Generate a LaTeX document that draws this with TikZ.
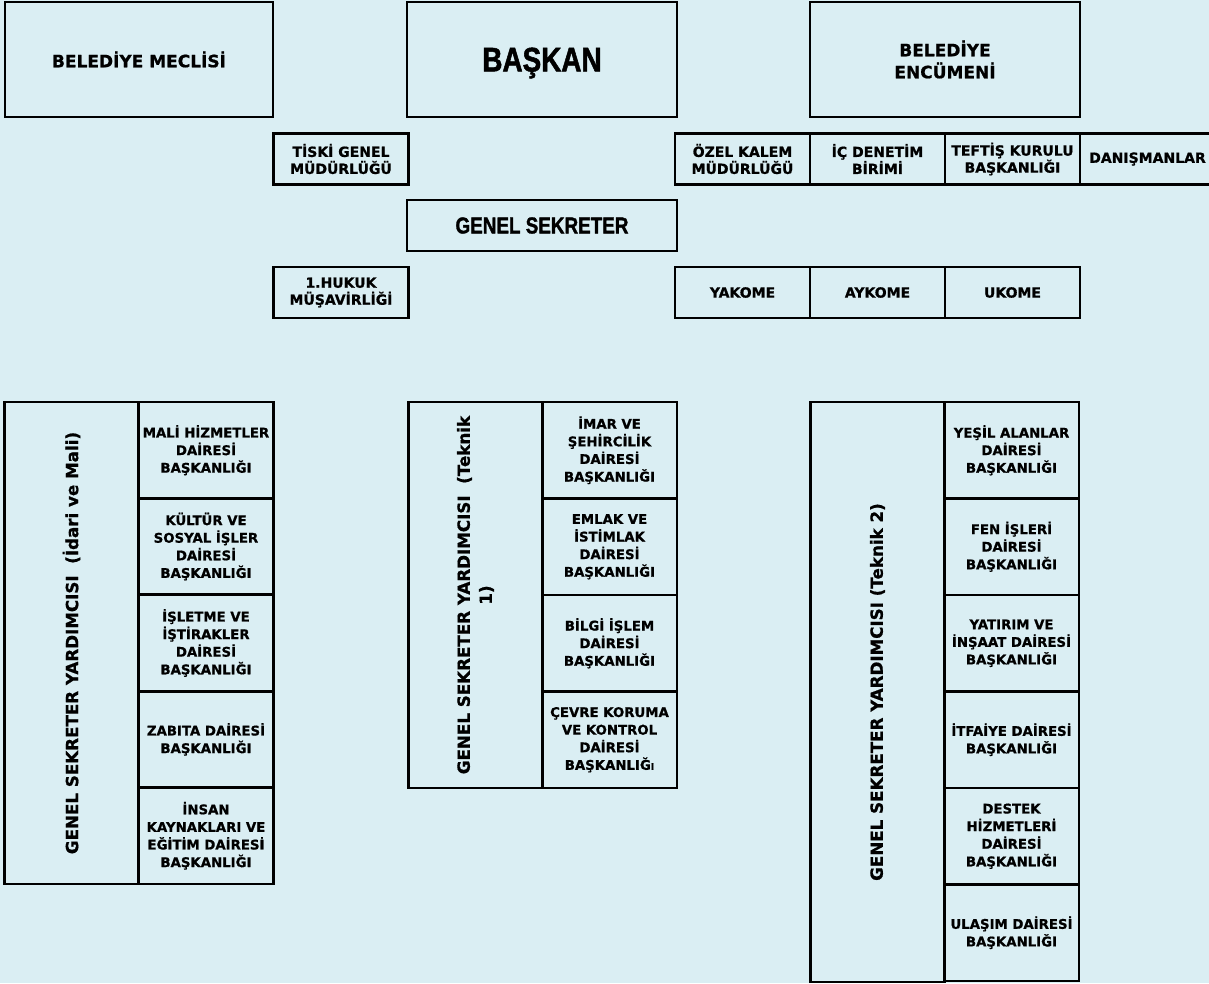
\documentclass[tikz,border=0pt]{standalone}
\usepackage{fontspec}
\newfontfamily\boxfont{DejaVu Sans Bold}[FakeBold=0.9]
\newfontfamily\headfont{Liberation Sans Bold}[FakeStretch=0.82,FakeBold=1.5]
\usetikzlibrary{positioning}
\definecolor{bgblue}{HTML}{DAEEF3}

\begin{document}
\begin{tikzpicture}[x=1pt,y=-1pt,
  box/.style={draw, line width=2.8pt, rectangle, outer sep=0pt, inner sep=0pt, align=center,
    font=\boxfont\fontsize{13.3}{17.6}\selectfont},
  topbox/.style={box, minimum width=270, minimum height=115, font=\boxfont\fontsize{17}{22}\selectfont},
  smallbox/.style={box, minimum width=135, minimum height=51, font=\boxfont\fontsize{14}{17}\selectfont},
  headcell/.style={box, rotate=90, minimum height=134, font=\boxfont\fontsize{16.7}{22}\selectfont},
  unitcell/.style={box, minimum width=135, minimum height=96.5}]

% Background
\fill[bgblue] (0,0) rectangle (1209,983);
\clip (0,0) rectangle (1209,983);

% Top row
\node[topbox, minimum width=268] (meclis) at (139,59.5) {BELEDİYE MECLİSİ};
\node[topbox, text depth=0pt, font=\headfont\fontsize{34}{40}\selectfont] (baskan) at (542,59.5) {BAŞKAN};
\node[topbox] (encumen) at (945,59.5) {BELEDİYE\\ENCÜMENİ};

% Units under the mayor
\node[smallbox] (tiski) at (341,159) {TİSKİ GENEL\\MÜDÜRLÜĞÜ};
\node[smallbox] (ozel) at (742.5,159) {ÖZEL KALEM\\MÜDÜRLÜĞÜ};
\node[smallbox, right=0pt of ozel] (icden) {İÇ DENETİM\\BİRİMİ};
\node[smallbox, right=0pt of icden] (teftis) {TEFTİŞ KURULU\\BAŞKANLIĞI};
\node[smallbox, right=0pt of teftis] (danis) {DANIŞMANLAR};

% Secretary general
\node[box, minimum width=270, minimum height=51, font=\headfont\fontsize{23}{28}\selectfont]
  (gensek) at (542,225.5) {GENEL SEKRETER};

\node[smallbox] (hukuk) at (341,292.5) {1.HUKUK\\MÜŞAVİRLİĞİ};
\node[smallbox] (yakome) at (742.5,292.5) {YAKOME};
\node[smallbox, right=0pt of yakome] (aykome) {AYKOME};
\node[smallbox, right=0pt of aykome] (ukome) {UKOME};

% Deputy (administrative and financial)
\node[headcell, minimum width=482] (idari) at (71.5,643) {GENEL SEKRETER YARDIMCISI~~(İdari ve Mali)};
\node[unitcell, minimum height=96.4] (mali) at (206,450.2) {MALİ HİZMETLER\\DAİRESİ\\BAŞKANLIĞI};
\node[unitcell, minimum height=96.4, below=0pt of mali] (kultur) {KÜLTÜR VE\\SOSYAL İŞLER\\DAİRESİ\\BAŞKANLIĞI};
\node[unitcell, minimum height=96.4, below=0pt of kultur] (isletme) {İŞLETME VE\\İŞTİRAKLER\\DAİRESİ\\BAŞKANLIĞI};
\node[unitcell, minimum height=96.4, below=0pt of isletme] (zabita) {ZABITA DAİRESİ\\BAŞKANLIĞI};
\node[unitcell, minimum height=96.4, below=0pt of zabita] (insan) {İNSAN\\KAYNAKLARI VE\\EĞİTİM DAİRESİ\\BAŞKANLIĞI};

% Deputy (technical 1)
\node[headcell, minimum width=386] (teknik1) at (475.5,595) {GENEL SEKRETER YARDIMCISI~~(Teknik\\1)};
\node[unitcell] (imar) at (609.5,450.25) {İMAR VE\\ŞEHİRCİLİK\\DAİRESİ\\BAŞKANLIĞI};
\node[unitcell, below=0pt of imar] (emlak) {EMLAK VE\\İSTİMLAK\\DAİRESİ\\BAŞKANLIĞI};
\node[unitcell, below=0pt of emlak] (bilgi) {BİLGİ İŞLEM\\DAİRESİ\\BAŞKANLIĞI};
\node[unitcell, below=0pt of bilgi] (cevre) {ÇEVRE KORUMA\\VE KONTROL\\DAİRESİ\\BAŞKANLIĞ{\fontsize{9}{9}\selectfont I}};

% Deputy (technical 2)
\node[headcell, minimum width=580] (teknik2) at (877.5,692) {GENEL SEKRETER YARDIMCISI (Teknik 2)};
\node[unitcell] (yesil) at (1011.5,450.25) {YEŞİL ALANLAR\\DAİRESİ\\BAŞKANLIĞI};
\node[unitcell, below=0pt of yesil] (fen) {FEN İŞLERİ\\DAİRESİ\\BAŞKANLIĞI};
\node[unitcell, below=0pt of fen] (yatirim) {YATIRIM VE\\İNŞAAT DAİRESİ\\BAŞKANLIĞI};
\node[unitcell, below=0pt of yatirim] (itfaiye) {İTFAİYE DAİRESİ\\BAŞKANLIĞI};
\node[unitcell, below=0pt of itfaiye] (destek) {DESTEK\\HİZMETLERİ\\DAİRESİ\\BAŞKANLIĞI};
\node[unitcell, below=0pt of destek] (ulasim) {ULAŞIM DAİRESİ\\BAŞKANLIĞI};
\end{tikzpicture}
\end{document}
